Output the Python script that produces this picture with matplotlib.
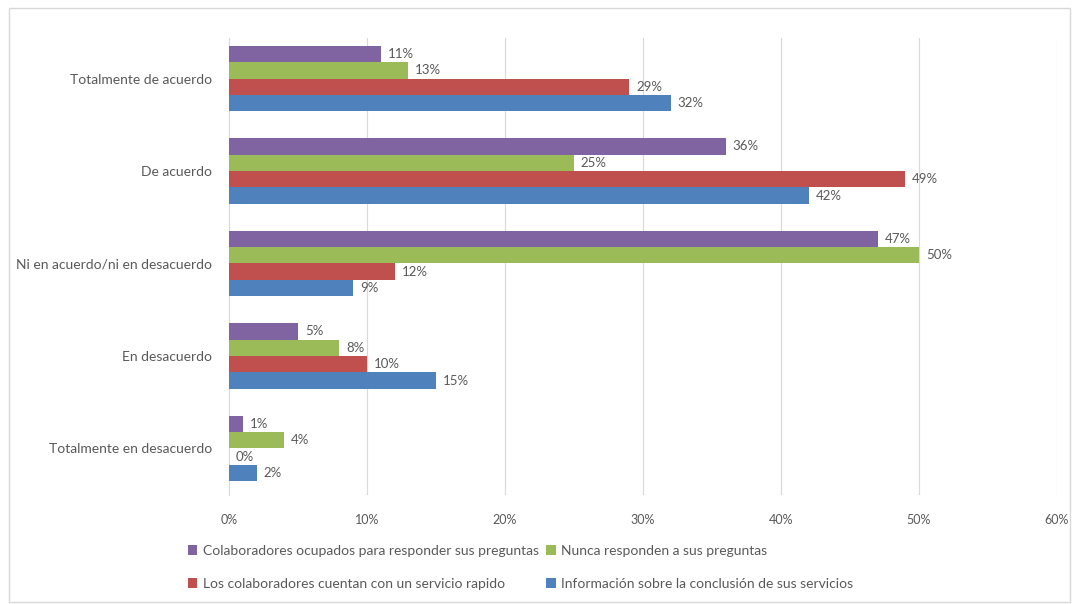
import numpy as np
import matplotlib.pyplot as plt
from matplotlib.patches import Rectangle

# Datos (porcentajes)
categorias = ['Totalmente de acuerdo', 'De acuerdo', 'Ni en acuerdo/ni en desacuerdo',
              'En desacuerdo', 'Totalmente en desacuerdo']
series = ['Colaboradores ocupados para responder sus preguntas',
          'Nunca responden a sus preguntas',
          'Los colaboradores cuentan con un servicio rapido',
          'Información sobre la conclusión de sus servicios']
ocupados = [11, 36, 47, 5, 1]
nunca = [13, 25, 50, 8, 4]
rapido = [29, 49, 12, 10, 0]
informacion = [32, 42, 9, 15, 2]
colores = ['#8064A2', '#9BBB59', '#C0504D', '#4F81BD']

plt.rcParams['font.family'] = ['Lato', 'DejaVu Sans']
gris = '#595959'

fig = plt.figure(figsize=(10.72, 6.04), dpi=100)
ax = fig.add_axes([0.2136, 0.1809, 0.7724, 0.7565])

valores = [ocupados, nunca, rapido, informacion]
alto = 0.177
y = np.arange(len(categorias))
barras = []
for k, (nombre, vals, c) in enumerate(zip(series, valores, colores)):
    pos = y + (k - 1.5) * alto
    b = ax.barh(pos, vals, height=alto, color=c, label=nombre, zorder=3)
    barras.append(b)
    for p, v in zip(pos, vals):
        ax.text(v + 0.5, p, f'{v}%', va='center', ha='left', fontsize=9.5, color=gris, zorder=4)

ax.set_ylim(len(categorias) - 0.5, -0.44)
ax.set_xlim(0, 60)
ax.set_xticks(range(0, 61, 10))
ax.set_xticklabels([f'{t}%' for t in range(0, 61, 10)], fontsize=9, color=gris)
ax.set_yticks(y)
ax.set_yticklabels(categorias, fontsize=10, color=gris)
ax.tick_params(length=0, pad=12)
ax.tick_params(axis='x', pad=14)
ax.grid(axis='x', color='#D9D9D9', linewidth=0.8, zorder=0)
for s in ['top', 'right', 'bottom']:
    ax.spines[s].set_visible(False)
ax.spines['left'].set_color('#D9D9D9')

# Leyenda en dos columnas (fila 1: morado, verde; fila 2: rojo, azul)
orden = [0, 2, 1, 3]
ax.legend([barras[i] for i in orden], [series[i] for i in orden], ncol=2,
          loc='upper left', bbox_to_anchor=(-0.065, -0.083), frameon=False,
          fontsize=10, labelcolor=gris, handlelength=0.7, handleheight=0.7,
          handletextpad=0.4, columnspacing=0.5, labelspacing=1.5)

# Marco exterior del gráfico
fig.patches.append(Rectangle((0.008, 0.003), 0.99, 0.984, transform=fig.transFigure,
                             fill=False, edgecolor='#D9D9D9', linewidth=1))

fig.savefig('out.png', dpi=100)
